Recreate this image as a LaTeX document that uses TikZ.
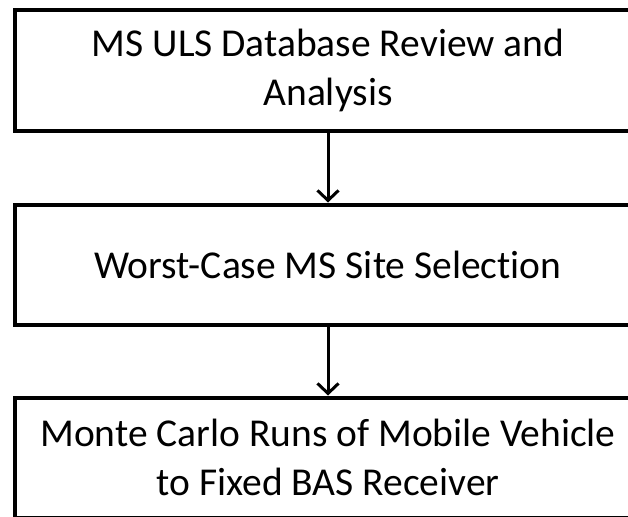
\documentclass[tikz,border=0pt]{standalone}
\usepackage{fontspec}
\setmainfont[Ligatures={NoCommon}]{Carlito}
\usetikzlibrary{arrows.meta}
\begin{document}
\begin{tikzpicture}[x=1pt,y=-1pt,
  stagebox/.style={draw=black, line width=4pt, minimum width=627pt, minimum height=120pt,
    align=center, inner sep=0pt, font=\fontsize{39.5}{48.5}\selectfont},
  flow/.style={line width=3pt, -{Straight Barb[length=10pt,width=21pt,line width=3pt]}}]
\useasboundingbox (0,0) rectangle (628,516);
\clip (0,0) rectangle (628,516);
\node[stagebox] (s1) at (328,70.5) {MS ULS Database Review and\\Analysis};
\node[stagebox] (s2) at (328,264.5) {Worst-Case MS Site Selection};
\node[stagebox] (s3) at (328,457.5) {Monte Carlo Runs of Mobile Vehicle\\to Fixed BAS Receiver};
\draw[flow] (s1) -- (s2);
\draw[flow] (s2) -- (s3);
\end{tikzpicture}
\end{document}
